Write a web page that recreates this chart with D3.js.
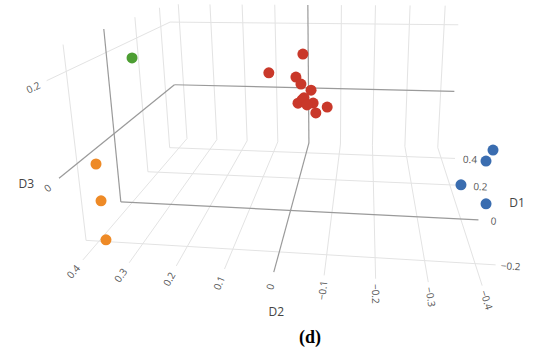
<!DOCTYPE html>
<html><head><meta charset="utf-8">
<script src="https://cdn.jsdelivr.net/npm/d3@7"></script>
<style>body{margin:0;background:#fff}svg{display:block;font-family:"Open Sans",sans-serif}</style>
</head><body>
<svg id="chart" width="550" height="354"></svg>
<script>
// axis ranges and ticks
const d1Domain = [-0.28, 0.49];
const d2Domain = [-0.44, 0.43];
const d3Domain = [-0.18, 0.255];
const d1Ticks = [-0.2, 0, 0.2, 0.4];
const d2Ticks = [-0.4, -0.3, -0.2, -0.1, 0, 0.1, 0.2, 0.3, 0.4];
const d3Ticks = [0, 0.2];

// points as [D1, D2, D3]
const redPoints = [
  [0.340, 0.001, 0.136], [0.220, 0.080, 0.108], [0.300, 0.017, 0.079], [0.270, 0.000, 0.067],
  [0.310, -0.024, 0.040], [0.260, -0.009, 0.031], [0.290, 0.011, 0.007], [0.240, -0.019, 0.017],
  [0.330, -0.028, -0.003], [0.280, -0.071, 0.001], [0.250, -0.042, -0.008], [0.360, 0.007, -0.003]
];
const bluePoints = [[-0.282, -0.400, 0.093], [-0.083, -0.430, -0.003], [-0.094, -0.380, -0.055], [-0.211, -0.410, -0.043]];
const orangePoints = [[-0.195, 0.390, -0.001], [-0.149, 0.410, -0.108], [-0.228, 0.370, -0.160]];
const greenPoints = [[0.081, 0.400, 0.171]];

// perspective camera: unit cube -> screen pixels
const camera = [232.508, -427.821, -33.242, 504.046, -45.295, -1.963, -232.881, 286.996, 0.63306, 0.10045, -0.10204, 1];

const sx = d3.scaleLinear().domain(d1Domain).range([0, 1]);
const sy = d3.scaleLinear().domain(d2Domain).range([0, 1]);
const sz = d3.scaleLinear().domain(d3Domain).range([0, 1]);
const [xmin, xmax] = d1Domain, [ymin, ymax] = d2Domain, [zmin, zmax] = d3Domain;

function project(d) {
  const P = camera, x = sx(d[0]), y = sy(d[1]), z = sz(d[2]);
  const w = P[8] * x + P[9] * y + P[10] * z + P[11];
  return [(P[0] * x + P[1] * y + P[2] * z + P[3]) / w, (P[4] * x + P[5] * y + P[6] * z + P[7]) / w, w];
}

const svg = d3.select("#chart");
const grid = svg.append("g");
const line = (a, b, zero) => {
  const p = project(a), q = project(b);
  grid.append("line").attr("x1", p[0]).attr("y1", p[1]).attr("x2", q[0]).attr("y2", q[1])
    .attr("stroke", zero ? "#9a9a9a" : "#e3e3e3").attr("stroke-width", zero ? 1.2 : 1);
};
// floor (D3 min), left wall (D2 max), back wall (D1 max)
const gridSet = zero => {
  d1Ticks.filter(t => (t === 0) === zero).forEach(t => {
    line([t, ymin, zmin], [t, ymax, zmin], zero);
    line([t, ymax, zmin], [t, ymax, zmax], zero);
  });
  d2Ticks.filter(t => (t === 0) === zero).forEach(t => {
    line([xmin, t, zmin], [xmax, t, zmin], zero);
    line([xmax, t, zmin], [xmax, t, zmax], zero);
  });
  d3Ticks.filter(t => (t === 0) === zero).forEach(t => {
    line([xmin, ymax, t], [xmax, ymax, t], zero);
    line([xmax, ymin, t], [xmax, ymax, t], zero);
  });
};
gridSet(false);
gridSet(true);

const fmt = v => (v === 0 ? "0" : String(+v.toFixed(1))).replace("-", "\u2212");
function dirOf(from, to) {
  const p = project(from), q = project(to);
  let dx = q[0] - p[0], dy = q[1] - p[1];
  const len = Math.hypot(dx, dy);
  return {q, dx: dx / len, dy: dy / len};
}
function tickLabel(from, to, text) {
  const {q, dx, dy} = dirOf(from, to);
  let ang = Math.atan2(dy, dx) * 180 / Math.PI;
  if (ang > 90) ang -= 180;
  if (ang < -90) ang += 180;
  svg.append("text").attr("transform", `translate(${q[0] + dx * 15},${q[1] + dy * 15}) rotate(${ang})`)
    .attr("text-anchor", "middle").attr("dominant-baseline", "central")
    .attr("font-size", 10).attr("fill", "#555").text(text);
}
d1Ticks.forEach(t => tickLabel([t, ymax, zmin], [t, ymin, zmin], fmt(t)));
d2Ticks.forEach(t => tickLabel([xmax, t, zmin], [xmin, t, zmin], fmt(t)));
d3Ticks.forEach(t => tickLabel([xmax, ymax, t], [xmin, ymax, t], fmt(t)));

function axisTitle(from, to, text, off, straightDown) {
  let {q, dx, dy} = dirOf(from, to);
  if (straightDown) { dx = 0; dy = 1; }
  svg.append("text").attr("x", q[0] + dx * off).attr("y", q[1] + dy * off)
    .attr("text-anchor", "middle").attr("dominant-baseline", "central")
    .attr("font-size", 12).attr("fill", "#444").text(text);
}
const m1 = (xmin + xmax) / 2, m2 = (ymin + ymax) / 2, m3 = (zmin + zmax) / 2;
axisTitle([m1, ymax, zmin], [m1, ymin, zmin], "D1", 46);
axisTitle([xmax, m2, zmin], [xmin, m2, zmin], "D2", 39, true);
axisTitle([xmax, ymax, m3], [xmin, ymax, m3], "D3", 38);

const groups = [
  {color: "#c9382a", pts: redPoints},
  {color: "#3a6db0", pts: bluePoints},
  {color: "#ee8a26", pts: orangePoints},
  {color: "#4d9e33", pts: greenPoints}
];
const marks = [];
groups.forEach(g => g.pts.forEach(p => marks.push({p: project(p), color: g.color})));
marks.sort((a, b) => b.p[2] - a.p[2]);
svg.append("g").selectAll("circle").data(marks).join("circle")
  .attr("cx", d => d.p[0]).attr("cy", d => d.p[1]).attr("r", 5.5).attr("fill", d => d.color);

svg.append("text").attr("x", 310).attr("y", 343).attr("text-anchor", "middle")
  .attr("font-family", "'Liberation Serif','Times New Roman',serif").attr("font-size", 18)
  .attr("font-weight", "bold").text("(d)");
</script>
</body></html>
